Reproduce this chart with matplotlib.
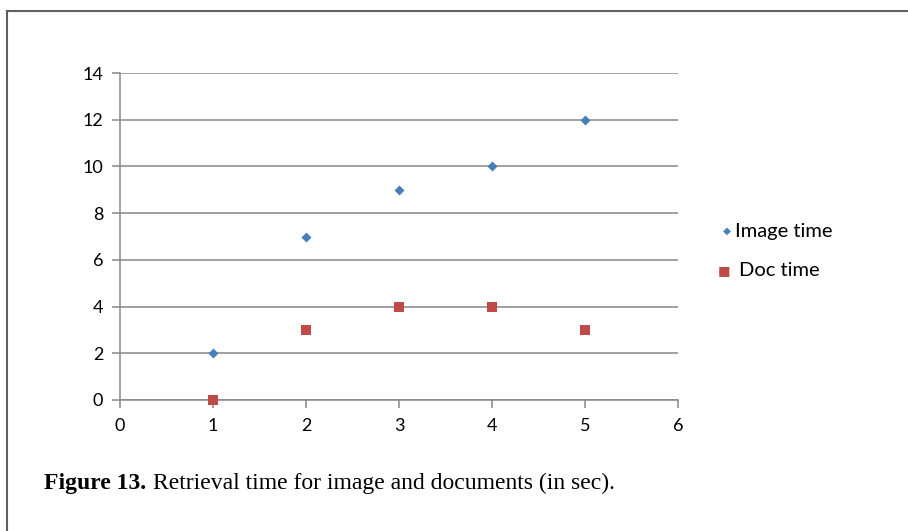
import matplotlib.pyplot as plt
from matplotlib.lines import Line2D

x_vals = [1, 2, 3, 4, 5]
image_time = [2, 7, 9, 10, 12]
doc_time = [0, 3, 4, 4, 3]

W, H = 908, 531
fig = plt.figure(figsize=(W / 100, H / 100), dpi=100)
plt.rcParams['font.family'] = ['Lato', 'DejaVu Sans']

# outer frame (only top and left edges are inside the picture)
fig.add_artist(Line2D([7 / W, 1.0], [1 - 11 / H, 1 - 11 / H], color='#606060', lw=1.5))
fig.add_artist(Line2D([7 / W, 7 / W], [1 - 11 / H, 0.0], color='#606060', lw=1.5))

ax = fig.add_axes([120 / W, (H - 400) / H, (678 - 120) / W, (400 - 73) / H])
ax.scatter(x_vals, image_time, marker='D', s=26, color='#4A7EBB', zorder=3, linewidths=0)
ax.scatter(x_vals, doc_time, marker='s', s=42, color='#BE4B48', zorder=3, linewidths=0,
           clip_on=False)

ax.set_xlim(0, 6)
ax.set_ylim(0, 14)
ax.set_xticks(range(0, 7))
ax.set_yticks(range(0, 15, 2))
ax.yaxis.grid(True, color='#878787', lw=1.1)
ax.set_axisbelow(True)
for s in ['top', 'right']:
    ax.spines[s].set_visible(False)
for s in ['left', 'bottom']:
    ax.spines[s].set_color('#878787')
    ax.spines[s].set_linewidth(1.1)
ax.tick_params(axis='both', direction='out', length=6, width=1.1, color='#878787',
               labelsize=13)
ax.tick_params(axis='x', pad=7)
ax.tick_params(axis='y', pad=6)

# legend
fig.text(727 / W, 1 - 231 / H, '\u25c6', color='#4A7EBB', fontsize=7.5, ha='center', va='center',
         family=['DejaVu Sans'])
fig.text(735 / W, 1 - 231 / H, 'Image time', fontsize=14.5, va='center')
fig.text(724 / W, 1 - 271 / H, '\u25a0', color='#BE4B48', fontsize=9.5, ha='center', va='center',
         family=['DejaVu Sans'])
fig.text(739 / W, 1 - 271 / H, 'Doc time', fontsize=14.5, va='center')

# caption
fig.text(44 / W, 1 - 483 / H, 'Figure 13.', fontsize=17, fontweight='bold',
         family=['Liberation Serif'], va='center')
fig.text(153 / W, 1 - 483 / H, 'Retrieval time for image and documents (in sec).', fontsize=17,
         family=['Liberation Serif'], va='center')

fig.savefig('out.png', dpi=100)
